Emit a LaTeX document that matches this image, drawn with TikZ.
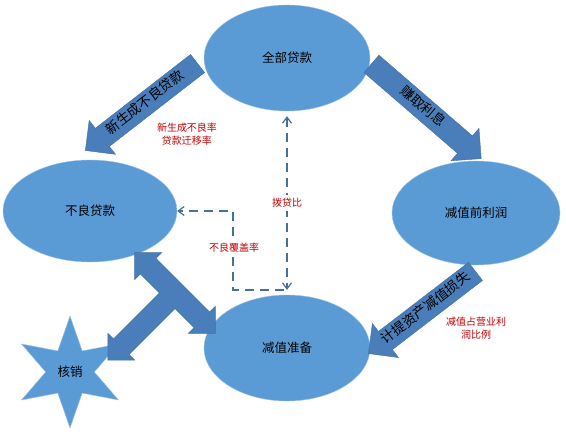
\documentclass[tikz,border=0pt]{standalone}
\usepackage{fontspec}
\setmainfont{Noto Sans CJK SC}
\usepackage{tikz}
\usetikzlibrary{arrows.meta,shapes.geometric,shapes.arrows}
\definecolor{ellblue}{RGB}{91,155,213}
\definecolor{arrblue}{RGB}{74,126,187}
\definecolor{edgeblue}{RGB}{65,113,156}
\definecolor{notered}{RGB}{192,0,0}

\begin{document}
\begin{tikzpicture}[x=1pt, y=-1pt, every node/.style={font=\fontsize{12.5}{14}\selectfont},
  blob/.style={ellipse, fill=ellblue, draw=ellblue!60, minimum width=166pt, minimum height=106pt, inner sep=0pt},
  flow/.style={single arrow, fill=arrblue, draw=edgeblue, font=\fontsize{13.5}{15}\selectfont, text height=9pt, text depth=2.5pt, inner ysep=5.5pt, inner xsep=2pt, single arrow head extend=10pt},
  note/.style={text=notered, font=\fontsize{10}{13}\selectfont, align=center},
  dline/.style={edgeblue, line width=1.2pt, dash pattern=on 9pt off 6pt, >={Straight Barb[length=6pt,width=9pt]}}]
\useasboundingbox (0,0) rectangle (566,436);
\node[blob] (all) at (287,58) {全部贷款};
\node[blob, minimum width=174pt, minimum height=102pt] (bad) at (90,211) {不良贷款};
\node[blob, minimum width=168pt, minimum height=104pt] (pre) at (476,213) {减值前利润};
\node[blob] (prov) at (287,348) {减值准备};
\node[star, star points=6, star point ratio=2.3, minimum size=112pt, fill=ellblue, draw=ellblue!60, inner sep=0pt] (wo) at (70,372) {核销};
\node[flow, shape border rotate=180, rotate=37.8, minimum height=142pt] (newbad) at (146,103.5) {新生成不良贷款};
\node[flow, rotate=-40.8, minimum height=145pt] (interest) at (422,107.5) {赚取利息};
\node[flow, shape border rotate=180, rotate=37.5, minimum height=135pt] (loss) at (426.5,309) {计提资产减值损失};
\begin{scope}[shift={(175,293)}, rotate=-45]
\filldraw[fill=arrblue, draw=edgeblue] (57,0) -- (38,19) -- (38,11) -- (11,11) -- (11,76) -- (19,76) -- (0,95) -- (-19,76) -- (-11,76) -- (-11,11) -- (-38,11) -- (-38,19) -- (-57,0) -- (-38,-19) -- (-38,-11) -- (38,-11) -- (38,-19) -- cycle;
\end{scope}
\node[note] (rate) at (187,134) {新生成不良率\\贷款迁移率};
\node[note] (share) at (476,328) {减值占营业利\\润比例};
\draw[dline, <->, shorten <=5pt, shorten >=5pt] (all.south) -- node[note, fill=white] (ratio) {拨贷比} (prov.north);
\coordinate (cvr) at (284,290);
\draw[dline, ->] (cvr) -| (233,211) -- (bad.east);
\node[note, fill=white] (cover) at (234,248) {不良覆盖率};
\end{tikzpicture}
\end{document}
